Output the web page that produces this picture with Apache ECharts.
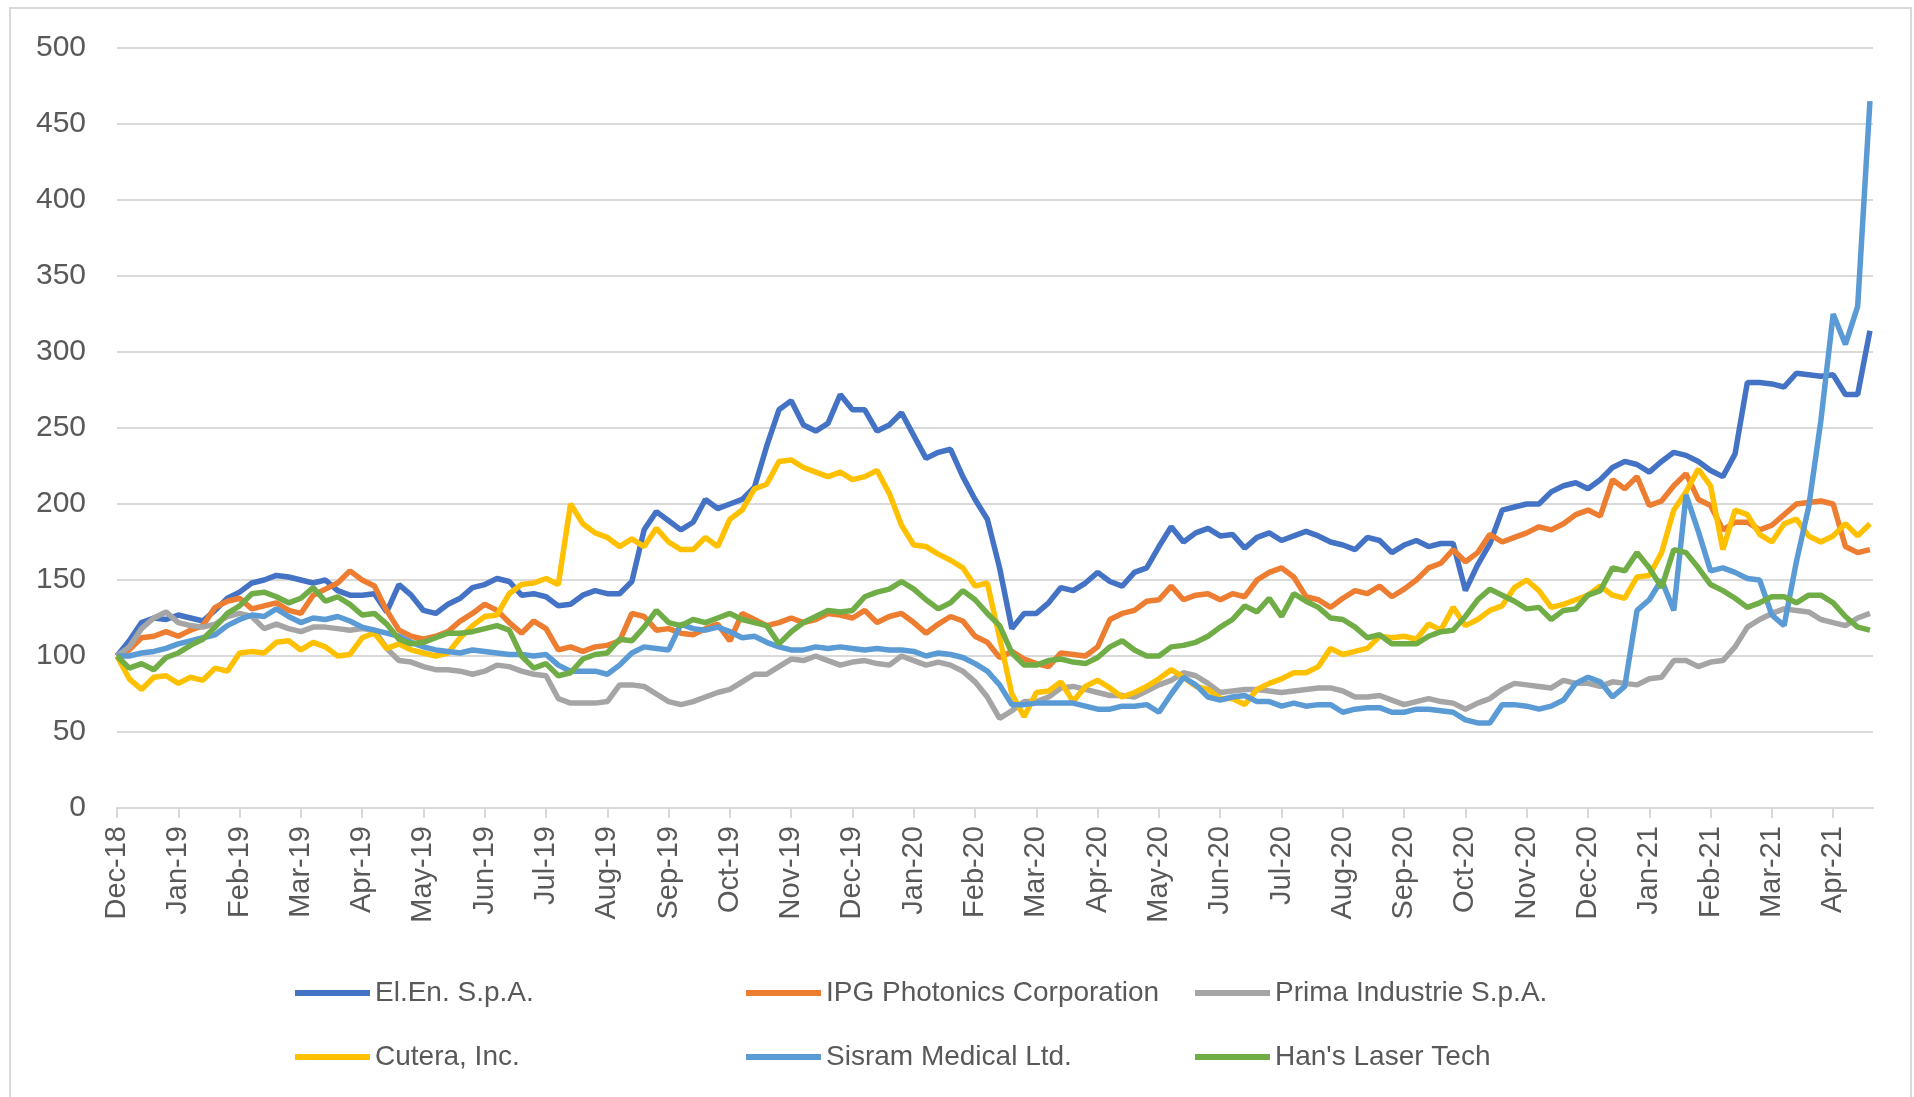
<!DOCTYPE html>
<html>
<head>
<meta charset="utf-8">
<script src="https://cdn.jsdelivr.net/npm/echarts@6/dist/echarts.min.js"></script>
<style>
  html, body { margin: 0; padding: 0; background: #fff; }
  #chart { width: 1914px; height: 1097px; }
</style>
</head>
<body>
<div id="chart"></div>
<script>
  // month tick labels, one per month start
  const monthLabels = [
    'Dec-18', 'Jan-19', 'Feb-19', 'Mar-19', 'Apr-19', 'May-19', 'Jun-19', 'Jul-19',
    'Aug-19', 'Sep-19', 'Oct-19', 'Nov-19', 'Dec-19', 'Jan-20', 'Feb-20', 'Mar-20',
    'Apr-20', 'May-20', 'Jun-20', 'Jul-20', 'Aug-20', 'Sep-20', 'Oct-20', 'Nov-20',
    'Dec-20', 'Jan-21', 'Feb-21', 'Mar-21', 'Apr-21',
  ]
  const yTicks = [0, 50, 100, 150, 200, 250, 300, 350, 400, 450, 500]

  // values are sampled 5 times a month (every ~6 days), index 0 = Dec-18
  const samplesPerMonth = 5

  const elEn = [
    100, 110, 122, 125, 124,  127, 125, 123, 130, 138,  142, 148, 150, 153, 152,
    150, 148, 150, 143, 140,  140, 141, 129, 147, 140,  130, 128, 134, 138, 145,
    147, 151, 149, 140, 141,  139, 133, 134, 140, 143,  141, 141, 149, 183, 195,
    189, 183, 188, 203, 197,  200, 203, 211, 238, 262,  268, 252, 248, 253, 272,
    262, 262, 248, 252, 260,  245, 230, 234, 236, 218,  203, 190, 158, 118, 128,
    128, 135, 145, 143, 148,  155, 149, 146, 155, 158,  172, 185, 175, 181, 184,
    179, 180, 171, 178, 181,  176, 179, 182, 179, 175,  173, 170, 178, 176, 168,
    173, 176, 172, 174, 174,  143, 160, 174, 196, 198,  200, 200, 208, 212, 214,
    210, 216, 224, 228, 226,  221, 228, 234, 232, 228,  222, 218, 233, 280, 280,
    279, 277, 286, 285, 284,  285, 272, 272, 314,
  ]
  const ipg = [
    100, 104, 112, 113, 116,  113, 117, 120, 132, 136,  138, 131, 133, 135, 130,
    128, 140, 144, 148, 156,  150, 146, 130, 117, 113,  111, 113, 116, 123, 128,
    134, 130, 122, 115, 123,  118, 104, 106, 103, 106,  107, 110, 128, 126, 117,
    118, 115, 114, 118, 121,  110, 128, 124, 120, 122,  125, 122, 124, 128, 127,
    125, 130, 122, 126, 128,  122, 115, 121, 126, 123,  113, 109, 99, 103, 98,
    95, 93, 102, 101, 100,    106, 124, 128, 130, 136,  137, 146, 137, 140, 141,
    137, 141, 139, 150, 155,  158, 152, 139, 137, 132,  138, 143, 141, 146, 139,
    144, 150, 158, 161, 170,  162, 168, 180, 175, 178,  181, 185, 183, 187, 193,
    196, 192, 216, 210, 218,  199, 202, 212, 220, 203,  199, 183, 188, 188, 183,
    186, 193, 200, 201, 202,  200, 172, 168, 170,
  ]
  const prima = [
    100, 106, 118, 125, 129,  122, 120, 119, 121, 126,  128, 126, 118, 121, 118,
    116, 119, 119, 118, 117,  118, 117, 105, 97, 96,    93, 91, 91, 90, 88,
    90, 94, 93, 90, 88,       87, 72, 69, 69, 69,       70, 81, 81, 80, 75,
    70, 68, 70, 73, 76,       78, 83, 88, 88, 93,       98, 97, 100, 97, 94,
    96, 97, 95, 94, 100,      97, 94, 96, 94, 90,       83, 73, 59, 64, 70,
    70, 73, 79, 80, 78,       76, 74, 74, 73, 77,       81, 84, 89, 87, 82,
    76, 77, 78, 78, 77,       76, 77, 78, 79, 79,       77, 73, 73, 74, 71,
    68, 70, 72, 70, 69,       65, 69, 72, 78, 82,       81, 80, 79, 84, 82,
    82, 80, 83, 82, 81,       85, 86, 97, 97, 93,       96, 97, 106, 119, 124,
    128, 131, 130, 129, 124,  122, 120, 125, 128,
  ]
  const cutera = [
    100, 85, 78, 86, 87,      82, 86, 84, 92, 90,       102, 103, 102, 109, 110,
    104, 109, 106, 100, 101,  112, 115, 105, 108, 104,  102, 100, 102, 112, 120,
    126, 127, 141, 147, 148,  151, 147, 200, 187, 181,  178, 172, 177, 172, 184,
    175, 170, 170, 178, 172,  190, 196, 210, 213, 228,  229, 224, 221, 218, 221,
    216, 218, 222, 207, 186,  173, 172, 167, 163, 158,  146, 148, 112, 75, 60,
    76, 77, 83, 70, 80,       84, 79, 73, 76, 80,       85, 91, 86, 80, 78,
    72, 72, 68, 78, 82,       85, 89, 89, 93, 105,      101, 103, 105, 113, 112,
    113, 111, 121, 117, 132,  120, 124, 130, 133, 145,  150, 143, 132, 134, 137,
    140, 146, 140, 138, 152,  153, 168, 196, 208, 223,  212, 170, 196, 193, 180,
    175, 187, 190, 179, 175,  179, 187, 179, 187,
  ]
  const sisram = [
    100, 100, 102, 103, 105,  108, 110, 112, 114, 120,  124, 127, 126, 131, 126,
    122, 125, 124, 126, 123,  119, 117, 115, 113, 109,  106, 104, 103, 102, 104,
    103, 102, 101, 101, 100,  101, 94, 90, 90, 90,      88, 94, 102, 106, 105,
    104, 121, 118, 117, 119,  116, 112, 113, 109, 106,  104, 104, 106, 105, 106,
    105, 104, 105, 104, 104,  103, 100, 102, 101, 99,   95, 90, 81, 68, 68,
    69, 69, 69, 69, 67,       65, 65, 67, 67, 68,       63, 75, 86, 81, 73,
    71, 73, 74, 70, 70,       67, 69, 67, 68, 68,       63, 65, 66, 66, 63,
    63, 65, 65, 64, 63,       58, 56, 56, 68, 68,       67, 65, 67, 71, 82,
    86, 83, 73, 80, 130,      137, 150, 130, 206, 182,  156, 158, 155, 151, 150,
    127, 120, 162, 198, 255,  325, 305, 330, 465,
  ]
  const hansLaser = [
    100, 92, 95, 91, 99,      102, 107, 111, 119, 128,  133, 141, 142, 139, 135,
    138, 145, 136, 139, 134,  127, 128, 121, 111, 108,  109, 112, 115, 115, 116,
    118, 120, 117, 100, 92,   95, 87, 89, 98, 101,      102, 111, 110, 119, 130,
    122, 120, 124, 122, 125,  128, 124, 122, 120, 108,  116, 122, 126, 130, 129,
    130, 139, 142, 144, 149,  144, 137, 131, 135, 143,  137, 128, 120, 102, 94,
    94, 97, 98, 96, 95,       99, 106, 110, 104, 100,   100, 106, 107, 109, 113,
    119, 124, 133, 129, 138,  126, 141, 136, 132, 125,  124, 119, 112, 114, 108,
    108, 108, 113, 116, 117,  126, 137, 144, 140, 136,  131, 132, 124, 130, 131,
    140, 143, 158, 156, 168,  158, 145, 170, 168, 158,  147, 143, 138, 132, 135,
    139, 139, 135, 140, 140,  135, 126, 119, 117,
  ]

  const seriesNames = [
    'El.En. S.p.A.', 'IPG Photonics Corporation', 'Prima Industrie S.p.A.',
    'Cutera, Inc.', 'Sisram Medical Ltd.', "Han's Laser Tech",
  ]
  const seriesValues = [elEn, ipg, prima, cutera, sisram, hansLaser]

  // styling / layout (kept apart from the data)
  const colors = ['#4472C4', '#ED7D31', '#A5A5A5', '#FFC000', '#5B9BD5', '#70AD47']
  const legendSlots = [
    [295, 979], [746, 979], [1195, 979],
    [295, 1043], [746, 1043], [1195, 1043],
  ]
  const font = "'Liberation Sans', Arial, sans-serif"
  const gray = '#595959'
  const lineGray = '#d9d9d9'
  const monthTicks = monthLabels.map((_, i) => i)

  const toPoints = (values) => values.map((v, i) => [i / samplesPerMonth, v])

  const chart = echarts.init(document.getElementById('chart'))

  chart.setOption({
    animation: false,
    backgroundColor: '#fff',
    color: colors,
    graphic: [
      {
        type: 'rect',
        silent: true,
        shape: { x: 10, y: 8, width: 1901, height: 1100 },
        style: { fill: 'none', stroke: lineGray, lineWidth: 2 },
      },
    ],
    grid: {
      left: 117,
      right: 41,
      top: 48,
      bottom: 289,
      containLabel: false,
      outerBoundsMode: 'none',
    },
    legend: seriesNames.map((name, i) => ({
      data: [name],
      left: legendSlots[i][0],
      top: legendSlots[i][1],
      padding: 0,
      icon: 'rect',
      itemWidth: 75,
      itemHeight: 6,
      selectedMode: false,
      textStyle: { fontSize: 28, color: gray, fontFamily: font },
    })),
    xAxis: {
      type: 'value',
      min: 0,
      max: 28.65,
      interval: 1,
      axisLine: { show: true, lineStyle: { color: lineGray, width: 2 } },
      axisTick: {
        show: true,
        length: 10,
        customValues: monthTicks,
        lineStyle: { color: lineGray, width: 2 },
      },
      axisLabel: {
        rotate: 90,
        margin: 18,
        fontSize: 29,
        color: gray,
        fontFamily: font,
        customValues: monthTicks,
        formatter: (v) => monthLabels[Math.round(v)] || '',
      },
      splitLine: { show: false },
    },
    yAxis: {
      type: 'value',
      min: yTicks[0],
      max: yTicks[yTicks.length - 1],
      interval: 50,
      axisLine: { show: false },
      axisTick: { show: false },
      axisLabel: { margin: 31, fontSize: 30, color: gray, fontFamily: font },
      splitLine: { lineStyle: { color: lineGray, width: 2 } },
    },
    series: seriesNames.map((name, i) => ({
      name,
      type: 'line',
      showSymbol: false,
      symbol: 'none',
      data: toPoints(seriesValues[i]),
      lineStyle: { width: 5.5, color: colors[i] },
      itemStyle: { color: colors[i] },
    })),
  })
</script>
</body>
</html>
